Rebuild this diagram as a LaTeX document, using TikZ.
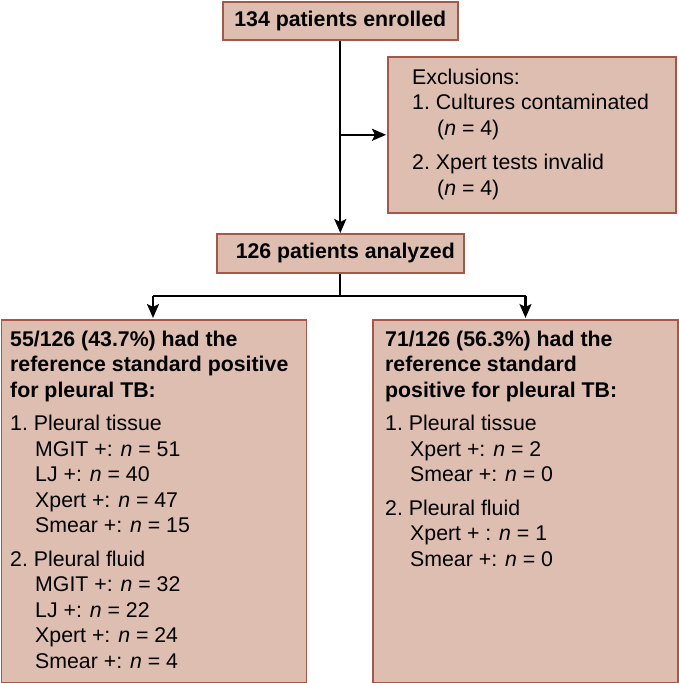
\documentclass[tikz,border=0pt]{standalone}
\usepackage{fontspec}
\setmainfont{Liberation Sans}
\usetikzlibrary{arrows.meta}
\definecolor{boxfill}{RGB}{222,190,177}
\definecolor{boxline}{RGB}{165,88,74}
\tikzset{
  flowbox/.style={draw=boxline, fill=boxfill, line width=1.6pt, inner sep=0pt, anchor=north west},
  boxtext/.style={inner sep=0pt, align=left, anchor=north west, font=\fontsize{21.3}{25.5}\selectfont},
  titletext/.style={inner sep=0pt, font=\fontsize{21.3}{25.5}\selectfont\bfseries},
  flowarrow/.style={line width=2.3pt, -{Stealth[length=14pt,width=12pt,inset=3pt]}},
  flowline/.style={line width=2.3pt}
}
\newcommand{\ind}{\hspace*{25pt}}
\newcommand{\nn}{\textit{n}~=~}
\begin{document}
\begin{tikzpicture}[x=1pt,y=-1pt]
\useasboundingbox (0,0) rectangle (678,683);
% boxes
\node[flowbox, minimum width=235pt, minimum height=38pt] (enrolled) at (222,1) {};
\node[flowbox, minimum width=288pt, minimum height=156pt] (excl) at (387,56) {};
\node[flowbox, minimum width=247pt, minimum height=39pt] (analyzed) at (216,233) {};
\node[flowbox, minimum width=305pt, minimum height=363pt] (left) at (0.8,319) {};
\node[flowbox, minimum width=305pt, minimum height=363pt] (right) at (372,319) {};
% texts
\node[titletext] (enrolledtxt) at (enrolled.center) {134 patients enrolled};
\node[titletext] (analyzedtxt) at ([xshift=5pt]analyzed.center) {126 patients analyzed};
\node[boxtext] (excltxt) at (412,68.5) {Exclusions:\\
1.~Cultures contaminated\\
\ind(\nn4)\\[9pt]
2.~Xpert tests invalid\\
\ind(\nn4)};
\node[boxtext] (lefttxt) at (10,330.5) {\textbf{55/126 (43.7\%) had the}\\
\textbf{reference standard positive}\\
\textbf{for pleural TB:}\\[8pt]
1.~Pleural tissue\\
\ind MGIT +: \nn51\\
\ind LJ +: \nn40\\
\ind Xpert +: \nn47\\
\ind Smear +: \nn15\\[8pt]
2.~Pleural fluid\\
\ind MGIT +: \nn32\\
\ind LJ +: \nn22\\
\ind Xpert +: \nn24\\
\ind Smear +: \nn4};
\node[boxtext] (righttxt) at (385,330.5) {\textbf{71/126 (56.3\%) had the}\\
\textbf{reference standard}\\
\textbf{positive for pleural TB:}\\[8pt]
1.~Pleural tissue\\
\ind Xpert +: \nn2\\
\ind Smear +: \nn0\\[8pt]
2.~Pleural fluid\\
\ind Xpert + : \nn1\\
\ind Smear +: \nn0};
% connectors
\coordinate (split) at (enrolled.south |- excl.west);
\coordinate (fork) at (analyzed.south |- 0,296);
\coordinate (leftend) at (153,318);
\coordinate (rightend) at (525.5,318);
\draw[flowarrow] (enrolled.south) -- (analyzed.north);
\draw[flowarrow] (split) -- ([xshift=-1pt]excl.west);
\draw[flowline] (analyzed.south) -- (fork);
\draw[flowline] (fork -| leftend) -- (fork -| rightend);
\draw[flowarrow] (fork -| leftend) -- (leftend);
\draw[flowarrow] (fork -| rightend) -- (rightend);
\end{tikzpicture}
\end{document}
